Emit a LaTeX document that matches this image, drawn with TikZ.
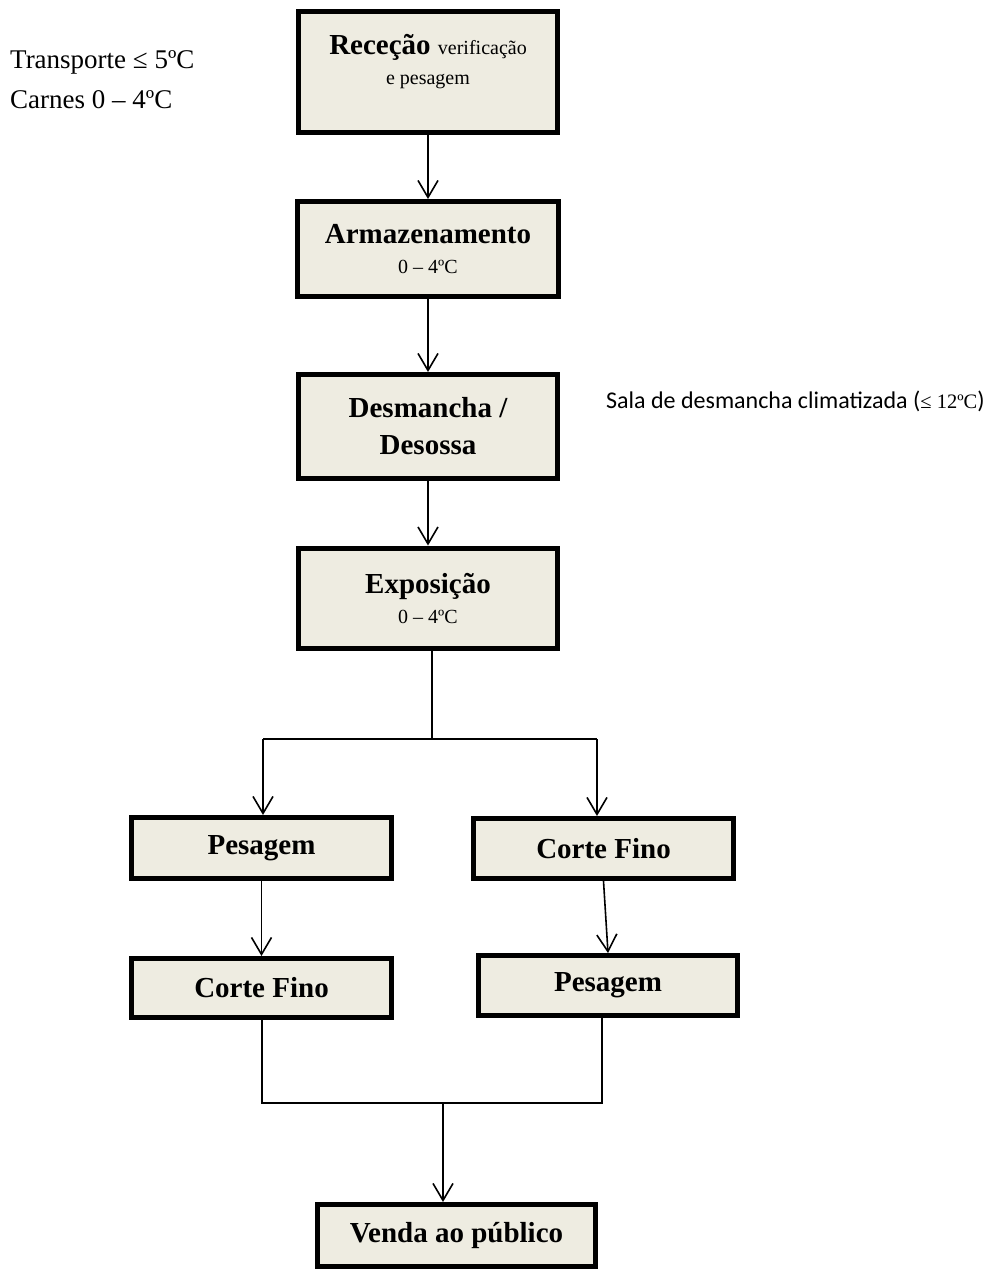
\documentclass[tikz,border=0pt]{standalone}
\usepackage{fontspec}
\setmainfont{Liberation Serif}
\newfontfamily\calib{Carlito}
\usetikzlibrary{arrows.meta,calc}
\definecolor{boxfill}{HTML}{EEECE1}
\newcommand{\smalltxt}{\normalfont\fontsize{20}{24}\selectfont}
\begin{document}
\begin{tikzpicture}[x=1pt,y=-1pt,
  box/.style={draw=black,line width=5pt,fill=boxfill,inner sep=0pt,align=center,
    font=\fontsize{29}{34}\selectfont\bfseries},
  conn/.style={line width=1.6pt,-{Straight Barb[length=17pt,width=20pt,line width=1.6pt]}},
  plain/.style={line width=1.6pt}]
\useasboundingbox (0,0) rectangle (992,1270);

% boxes
\node[box,minimum width=259pt,minimum height=121pt,text depth=26pt] (rec) at (428,72)
  {Receção {\smalltxt verificação}\\[-4pt]{\smalltxt e pesagem}};
\node[box,minimum width=261pt,minimum height=95pt] (arm) at (428,249)
  {Armazenamento\\[-4pt]{\smalltxt 0 – 4ºC}};
\node[box,minimum width=259pt,minimum height=104pt] (des) at (428,426.5)
  {Desmancha /\\[3pt]Desossa};
\node[box,minimum width=259pt,minimum height=100pt] (exp) at (428,598)
  {Exposição\\[-4pt]{\smalltxt 0 – 4ºC}};
\node[box,minimum width=260pt,minimum height=61pt] (pesL) at (261.5,848) {Pesagem};
\node[box,minimum width=260pt,minimum height=60pt] (corR) at (603.5,848.5) {Corte Fino};
\node[box,minimum width=260pt,minimum height=59pt] (corL) at (261.5,988) {Corte Fino};
\node[box,minimum width=259pt,minimum height=60pt] (pesR) at (608,985.5) {Pesagem};
\node[box,minimum width=278pt,minimum height=62pt] (venda) at (456.5,1235.5) {Venda ao público};

% side notes
\node[anchor=north west,align=left,inner sep=0pt,font=\fontsize{27}{40}\selectfont] (note) at (10,50)
  {Transporte ≤ 5ºC\\Carnes 0 – 4ºC};
\node[anchor=west,inner sep=0pt] (sala) at (606,401)
  {{\calib\fontsize{24}{29}\selectfont Sala de desmancha climatizada (}{\fontsize{20.5}{25}\selectfont ≤ 12ºC}{\calib\fontsize{24}{29}\selectfont )}};

% connectors
\draw[conn] (rec.south) -- (arm.north);
\draw[conn] (arm.south) -- (des.north);
\draw[conn] (des.south) -- (exp.north);

\coordinate (j0) at (432,739);
\coordinate (bL) at (263,739);
\coordinate (bR) at (597,739);
\draw[plain] (exp.south -| j0) -- (j0);
\draw[plain] (bL) -- (bR);
\draw[conn] (bL) -- (bL |- pesL.north);
\draw[conn] (bR) -- (bR |- corR.north);

\draw[conn] (pesL.south) -- (corL.north);
\draw[conn] (corR.south) -- (pesR.north);

\coordinate (mL) at (262,1103);
\coordinate (mR) at (602,1103);
\coordinate (mC) at (443,1103);
\draw[plain] (mL |- corL.south) -- (mL) -- (mR) -- (mR |- pesR.south);
\draw[conn] (mC) -- (mC |- venda.north);
\end{tikzpicture}
\end{document}
